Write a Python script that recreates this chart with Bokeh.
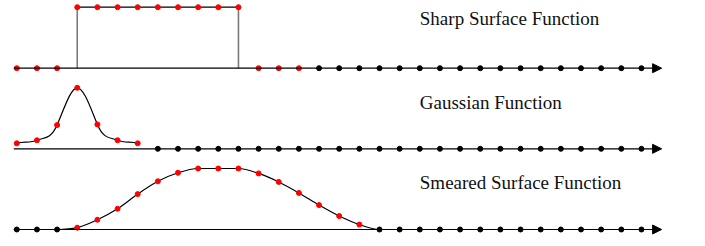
import numpy as np
from bokeh.plotting import figure
from bokeh.models import Range1d, Arrow, NormalHead, ColumnDataSource
from bokeh.core.properties import value
from bokeh.embed import file_html
from bokeh.resources import INLINE

# ---------------- data ----------------
n_grid = 32                       # grid points 0..31 on every axis
labels = ["Sharp Surface Function", "Gaussian Function", "Smeared Surface Function"]

sharp_idx = list(range(0, 15))
sharp_values = [0, 0, 0, 1, 1, 1, 1, 1, 1, 1, 1, 1, 0, 0, 0]

gauss_idx = list(range(0, 7))
gauss_values = [0.09, 0.14, 0.39, 1.0, 0.40, 0.14, 0.09]

smear_idx = list(range(3, 18))
smear_values = [0.03, 0.16, 0.34, 0.58, 0.79, 0.93, 1.0, 1.0, 1.0,
                0.92, 0.78, 0.60, 0.40, 0.22, 0.08]

# ---------------- layout ----------------
W, HT = 705, 246
OX, OY = 0, 0                     # page offset of the figure
X0, DX = 16.3, 20.15              # page x of grid point 0, spacing
AMP = 61.0                        # pixel height of value 1
row_base_page = [67.7, 148.3, 229.0]
text_base_page = [17.5, 101.5, 182.3]
RED = "#ff0000"

def py(page_y):
    return HT - (page_y - OY)

p = figure(width=W, height=HT, output_backend="svg", toolbar_location=None,
           x_range=Range1d((OX - X0) / DX, (OX + W - X0) / DX),
           y_range=Range1d(0, HT), x_axis_type=None, y_axis_type=None,
           min_border=0, min_border_left=0, min_border_right=0,
           min_border_top=0, min_border_bottom=0,
           outline_line_color=None, background_fill_color="white",
           border_fill_color="white")
p.grid.visible = False

bases = [py(b) for b in row_base_page]

# axes with arrow heads
for b in bases:
    p.add_layout(Arrow(end=NormalHead(size=9, fill_color="black", line_color="black", line_width=1),
                       x_start=-0.15, y_start=b, x_end=n_grid, y_end=b,
                       line_color="black", line_width=1.2))


def hermite_src(idx, vals, base, factor, flat_ends):
    """Smooth curve through the sample points drawn with cubic Bezier glyphs."""
    xs = np.array(idx, dtype=float)
    vs = np.array(vals, dtype=float)
    n = len(xs)
    chord = np.diff(vs) / np.diff(xs)
    m = np.zeros(n)
    for j in range(n):
        a = max(j - 1, 0)
        b = min(j + 1, n - 1)
        m[j] = factor * (vs[b] - vs[a]) / (xs[b] - xs[a])
        near = [chord[k] for k in (j - 1, j) if 0 <= k < n - 1]
        if len(near) == 2 and near[0] * near[1] <= 0:
            m[j] = 0.0
        else:
            lim = 3 * min(abs(c) for c in near)
            m[j] = np.sign(m[j]) * min(abs(m[j]), lim)
    if flat_ends:
        m[0] = 0
        m[-1] = 0
    ys = base + AMP * vs
    h = np.diff(xs)
    return dict(x0=xs[:-1], y0=ys[:-1], x1=xs[1:], y1=ys[1:],
                cx0=xs[:-1] + h / 3, cy0=ys[:-1] + AMP * m[:-1] * h / 3,
                cx1=xs[1:] - h / 3, cy1=ys[1:] - AMP * m[1:] * h / 3)

# ---- row 1: sharp step ----
b0 = bases[0]
sv = np.array(sharp_values)
sx = np.array(sharp_idx)
top_x = sx[sv == 1]
p.line(top_x, b0 + AMP * sv[sv == 1], line_color="black", line_width=1.2)
# vertical jumps where the value changes
jumps = [j for j in range(1, len(sv)) if sv[j] != sv[j - 1]]
for j in jumps:
    xj = sx[j] if sv[j] == 1 else sx[j - 1]
    p.line([xj, xj], [b0, b0 + AMP], line_color="#7a7a7a", line_width=1.6)

blk_x = list(range(sharp_idx[-1] + 1, n_grid))
p.scatter(blk_x, [b0] * len(blk_x), size=5, color="black")
p.scatter(sx, b0 + AMP * sv, size=5, color=RED)

# ---- row 2: gaussian ----
b1 = bases[1]
src = ColumnDataSource(hermite_src(gauss_idx, gauss_values, b1, 2.0, False))
p.bezier(x0="x0", y0="y0", x1="x1", y1="y1", cx0="cx0", cy0="cy0", cx1="cx1", cy1="cy1",
         source=src, line_color="black", line_width=1.2)
blk_x = list(range(gauss_idx[-1] + 1, n_grid))
p.scatter(blk_x, [b1] * len(blk_x), size=5, color="black")
p.scatter(gauss_idx, b1 + AMP * np.array(gauss_values), size=5, color=RED)

# ---- row 3: smeared ----
b2 = bases[2]
cx = [smear_idx[0] - 1] + smear_idx + [smear_idx[-1] + 1]
cv = [0] + smear_values + [0]
src = ColumnDataSource(hermite_src(cx, cv, b2, 1.0, True))
p.bezier(x0="x0", y0="y0", x1="x1", y1="y1", cx0="cx0", cy0="cy0", cx1="cx1", cy1="cy1",
         source=src, line_color="black", line_width=1.2)
blk_x = [i for i in range(n_grid) if i not in smear_idx]
p.scatter(blk_x, [b2] * len(blk_x), size=5, color="black")
p.scatter(smear_idx, b2 + AMP * np.array(smear_values), size=5, color=RED)

# ---- labels ----
text_x = (419.3 - OX - X0) / DX
p.text(x=[text_x] * 3, y=[py(t) for t in text_base_page], text=labels,
       text_font=value("Liberation Serif"), text_font_size="19px",
       text_color="#111111", text_align="left", text_baseline="alphabetic")

open("out.html", "w").write(file_html(p, INLINE))
